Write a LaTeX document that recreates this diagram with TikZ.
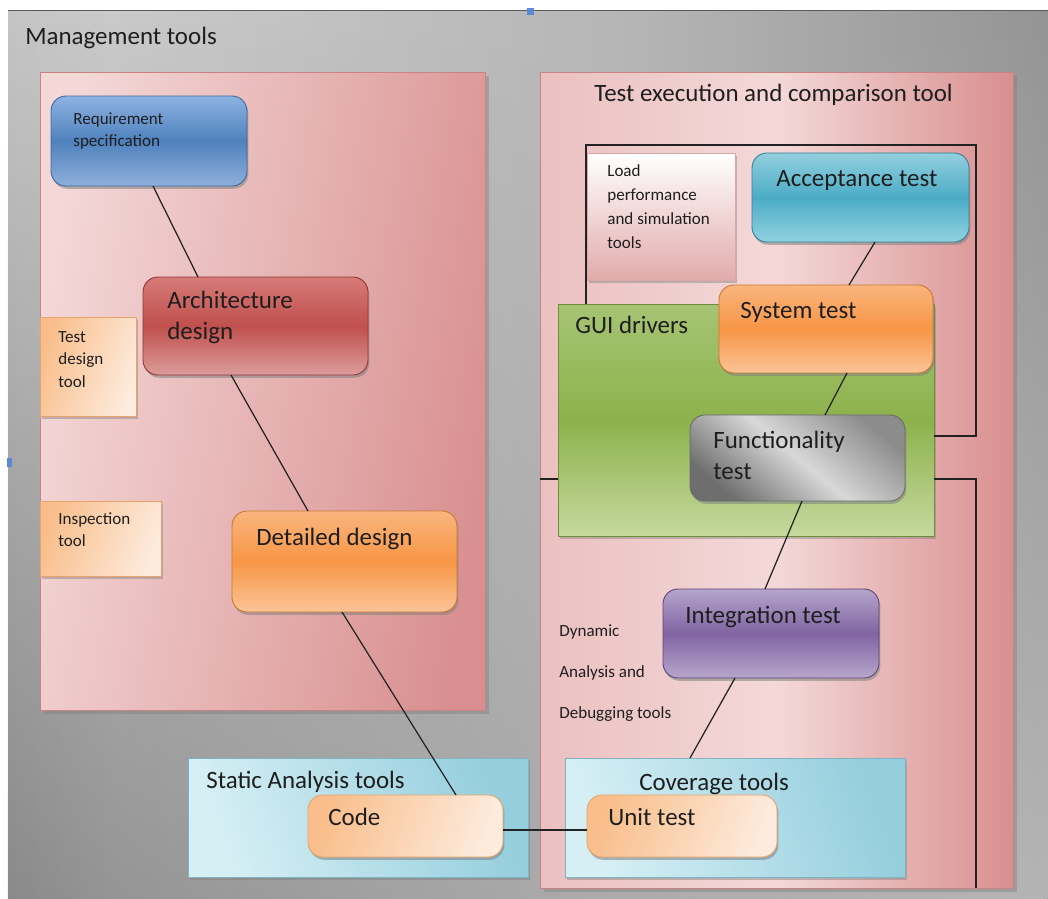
\documentclass[tikz,border=0pt]{standalone}
\usepackage{fontspec}
\setmainfont{Carlito}
\usetikzlibrary{shadows,fit,fadings}

% palette
\definecolor{txt}{HTML}{1E1E1E}
\definecolor{lineC}{HTML}{222222}
\definecolor{bgA}{HTML}{ADADAD}
\definecolor{bgB}{HTML}{CACACA}
\definecolor{bgC}{HTML}{B6B6B6}
\definecolor{bgD}{HTML}{6A6A6A}
\definecolor{pinkLight}{HTML}{F4D8D8}
\definecolor{pinkMid}{HTML}{EBC0C0}
\definecolor{pinkDark}{HTML}{D98F8F}
\definecolor{pinkEdge}{HTML}{C98383}
\definecolor{blueT}{HTML}{8DB3E2}
\definecolor{blueM}{HTML}{4F81BD}
\definecolor{blueB}{HTML}{8FB0DC}
\definecolor{blueE}{HTML}{3C679C}
\definecolor{redT}{HTML}{D67B79}
\definecolor{redM}{HTML}{C0504D}
\definecolor{redB}{HTML}{DC9C9A}
\definecolor{redE}{HTML}{8E3532}
\definecolor{orT}{HTML}{FAB57E}
\definecolor{orM}{HTML}{F79646}
\definecolor{orB}{HTML}{FBC497}
\definecolor{orE}{HTML}{C7772F}
\definecolor{tealT}{HTML}{93CFDE}
\definecolor{tealM}{HTML}{4BACC6}
\definecolor{tealB}{HTML}{92D2E1}
\definecolor{tealE}{HTML}{2F7F95}
\definecolor{purT}{HTML}{B5A5CB}
\definecolor{purM}{HTML}{8064A2}
\definecolor{purB}{HTML}{B6A6CB}
\definecolor{purE}{HTML}{5A4478}
\definecolor{greyD}{HTML}{6E6E6E}
\definecolor{greyU}{HTML}{8C8C8C}
\definecolor{greyL}{HTML}{D8D8D8}
\definecolor{greyE}{HTML}{6A6A6A}
\definecolor{grnT}{HTML}{A6C474}
\definecolor{grnM}{HTML}{8DB24C}
\definecolor{grnB}{HTML}{C5D99E}
\definecolor{grnE}{HTML}{6E8E3A}
\definecolor{peachD}{HTML}{F9BE8B}
\definecolor{peachL}{HTML}{FDEBDD}
\definecolor{peachE}{HTML}{E6A46C}
\definecolor{aquaL}{HTML}{D6EFF5}
\definecolor{aquaD}{HTML}{95CEDD}
\definecolor{aquaE}{HTML}{7FB3C2}
\definecolor{handle}{HTML}{5A8AD6}

\pgfdeclarehorizontalshading{backdrop}{100bp}{
  color(0bp)=(bgA); color(30bp)=(bgB); color(55bp)=(bgC); color(100bp)=(bgD)}

\newcommand\textlines[1]{\parbox[t]{6cm}{\raggedright #1}}

\begin{document}
\begin{tikzpicture}[x=0.02cm,y=-0.02cm,
  area/.style={inner sep=0pt, outer sep=0pt},
  panel/.style={area, draw=pinkEdge, line width=0.5pt,
    drop shadow={shadow xshift=2pt, shadow yshift=-2pt, opacity=0.45}},
  flatbox/.style={area, line width=0.4pt,
    drop shadow={shadow xshift=1.2pt, shadow yshift=-1.5pt, opacity=0.45}},
  gloss/.style={area, rounded corners=0.3cm, line width=0.5pt,
    drop shadow={shadow xshift=0.8pt, shadow yshift=-1.6pt, opacity=0.55}},
  bluebox/.style={gloss, draw=blueE, top color=blueT, bottom color=blueB, middle color=blueM},
  redbox/.style={gloss, draw=redE, top color=redT, bottom color=redB, middle color=redM},
  orangebox/.style={gloss, draw=orE, top color=orT, bottom color=orB, middle color=orM},
  tealbox/.style={gloss, draw=tealE, top color=tealT, bottom color=tealB, middle color=tealM},
  purplebox/.style={gloss, draw=purE, top color=purT, bottom color=purB, middle color=purM},
  greybox/.style={gloss, draw=greyE, top color=greyU, bottom color=greyD,
    middle color=greyL, shading angle=-40},
  peachbox/.style={flatbox, draw=peachE, left color=peachD, right color=peachL, shading angle=70},
  peachround/.style={gloss, draw=peachE, left color=peachD, right color=peachL, shading angle=70},
  aquabox/.style={flatbox, draw=aquaE, left color=aquaL, right color=aquaD, shading angle=110},
  big/.style={inner sep=0pt, anchor=base west, text=txt,
    font=\fontsize{14.2pt}{18.1pt}\selectfont},
  small/.style={inner sep=0pt, anchor=base west, text=txt,
    font=\fontsize{9.7pt}{13pt}\selectfont},
  link/.style={draw=lineC, line width=0.7pt},
  frame/.style={draw=lineC, line width=0.8pt}
]
\useasboundingbox (0,0) rectangle (1048,899);
\fill[white] (0,0) rectangle (1048,899);

% grey backdrop of the whole sheet: darker towards the lower left,
% lighter towards the lower right
\shade[shading=backdrop] (8,10) rectangle (1048,899);
\shade[left color=black, middle color=bgC, right color=white,
       path fading=north, opacity=0.3] (8,10) rectangle (1048,899);
\draw[gray!70!black, line width=0.4pt] (8,10) -- (1048,10);
\fill[handle] (527,8) rectangle (534,15);
\fill[handle] (7,458) rectangle (12,467);

% two large tool areas
\node[panel, fit={(40,72) (485,710)}, left color=pinkLight, right color=pinkDark,
      shading angle=80] (mgmtarea) {};
\node[panel, fit={(540,72) (1013,888)}, left color=pinkMid, right color=pinkDark,
      middle color=pinkLight] (execarea) {};

\node[big] (mgmtlbl) at (25,44) {Management tools};
\node[big] (execlbl) at (594,101) {Test execution and comparison tool};

% left area
\node[bluebox, fit={(51,96) (247,186)}] (req) {};
\node[small] (reqlbl) at (73,124) {\textlines{Requirement\\specification}};

\node[redbox, fit={(143,277) (368,375)}] (arch) {};
\node[big] (archlbl) at (167,308) {\textlines{Architecture\\design}};

\node[peachbox, fit={(40,317) (136,416)}] (tdt) {};
\node[small] (tdtlbl) at (58,342) {\textlines{Test\\design\\tool}};

\node[peachbox, fit={(40,501) (161,576)}] (insp) {};
\node[small] (insplbl) at (58,524) {\textlines{Inspection\\tool}};

\node[orangebox, fit={(232,511) (457,612)}] (det) {};
\node[big] (detlbl) at (256,545) {Detailed design};

% bottom tool boxes
\node[aquabox, fit={(188,758) (528,877)}] (static) {};
\node[big] (staticlbl) at (206,788) {Static Analysis tools};
\node[peachround, fit={(308,795) (503,857)}] (code) {};
\node[big] (codelbl) at (328,825) {Code};

\node[aquabox, fit={(565,758) (905,877)}] (cov) {};
\node[big] (covlbl) at (639,790) {Coverage tools};
\node[peachround, fit={(587,795) (777,857)}] (unit) {};
\node[big] (unitlbl) at (608,825) {Unit test};

% right area
\node[flatbox, draw=pinkEdge!70, fit={(587,153) (735,280)}, top color=white,
      bottom color=pinkDark!75] (load) {};
\node[small, font=\fontsize{9.7pt}{13.7pt}\selectfont] (loadlbl) at (607,176)
  {\textlines{Load\\performance\\and simulation\\tools}};

\node[tealbox, fit={(752,153) (969,242)}] (acc) {};
\node[big] (acclbl) at (776,186) {Acceptance test};

\node[flatbox, draw=grnE, fit={(558,304) (934,536)}, top color=grnT,
      bottom color=grnB, middle color=grnM] (gui) {};
\node[big] (guilbl) at (575,333) {GUI drivers};

\node[orangebox, fit={(719,285) (933,373)}] (sys) {};
\node[big] (syslbl) at (740,318) {System test};

\node[greybox, fit={(690,415) (905,501)}] (func) {};
\node[big] (funclbl) at (713,448) {\textlines{Functionality\\test}};

\node[purplebox, fit={(663,589) (879,678)}] (integ) {};
\node[big] (integlbl) at (685,623) {Integration test};

\node[small, font=\fontsize{9.7pt}{23.5pt}\selectfont] (dynlbl) at (559,636)
  {\textlines{Dynamic\\Analysis and\\Debugging tools}};

% frame around the GUI-driven tools
\coordinate (frameTL) at (586,145);
\coordinate (frameTR) at (976,145);
\coordinate (frameBR) at (976,436);
\draw[frame] (586,0 |- gui.north) -- (frameTL) -- (frameTR) -- (frameBR) -- (gui.east |- frameBR);
\draw[frame] (gui.east |- 0,479) -- (976,479) -- (976,0 |- execarea.south);
\draw[frame] (execarea.west |- 0,479) -- (gui.west |- 0,479);

% development V connectors
\draw[link] (153,0 |- req.south) -- (198,0 |- arch.north);
\draw[link] (231,0 |- arch.south) -- (308,0 |- det.north);
\draw[link] (342,0 |- det.south) -- (456,0 |- code.north);
\draw[link] (code.east |- 0,830) -- (unit.west |- 0,830);
\draw[link] (875,0 |- acc.south) -- (849,0 |- sys.north);
\draw[link] (847,0 |- sys.south) -- (825,0 |- func.north);
\draw[link] (802,0 |- func.south) -- (765,0 |- integ.north);
\draw[link] (735,0 |- integ.south) -- (690,0 |- cov.north);
\end{tikzpicture}
\end{document}
